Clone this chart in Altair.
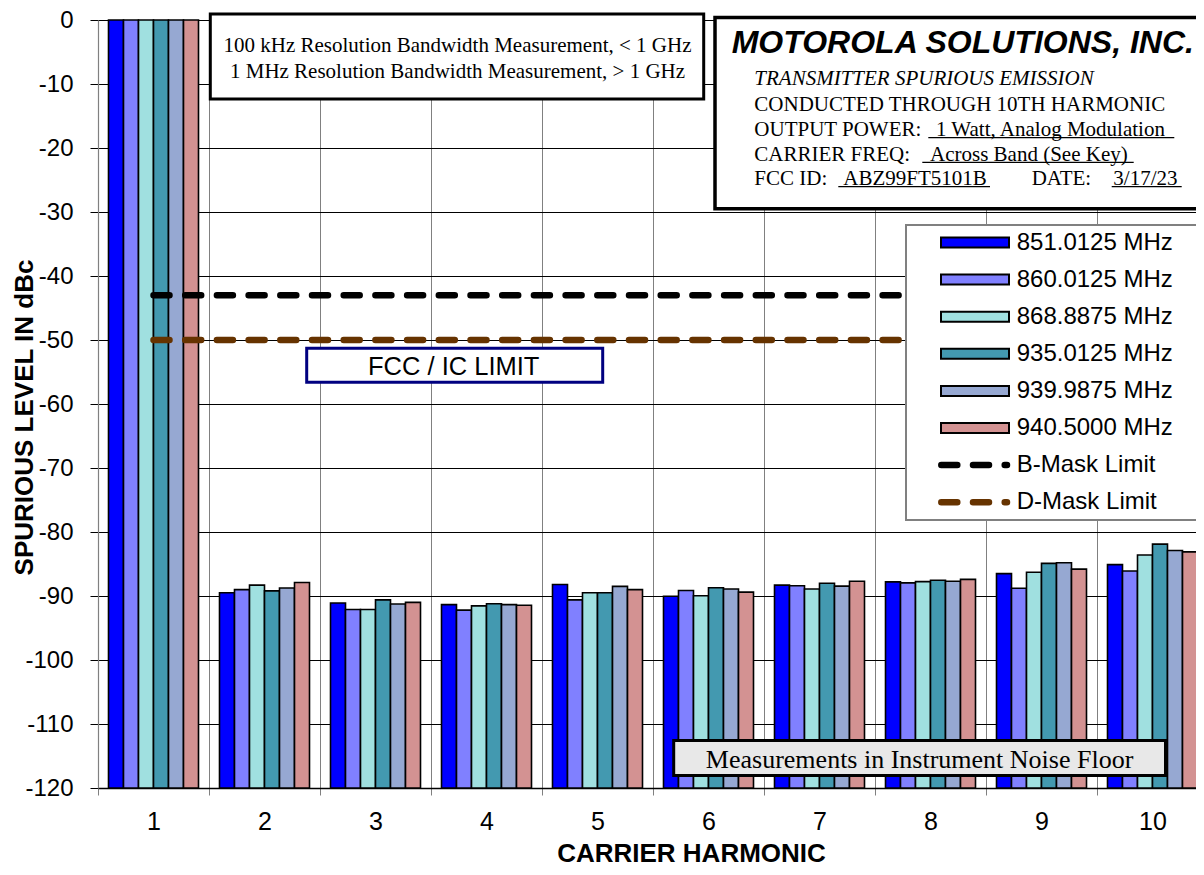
import altair as alt
import pandas as pd

# ---------------- data ----------------
harmonics = [1, 2, 3, 4, 5, 6, 7, 8, 9, 10]
series = ["851.0125 MHz", "860.0125 MHz", "868.8875 MHz",
          "935.0125 MHz", "939.9875 MHz", "940.5000 MHz"]
limit_names = ["B-Mask Limit", "D-Mask Limit"]

s851 = [0, -89.5, -91.1, -91.35, -88.2, -90.05, -88.3, -87.8, -86.5, -85.1]
s860 = [0, -89.0, -92.1, -92.2, -90.6, -89.15, -88.4, -87.95, -88.8, -86.1]
s868 = [0, -88.3, -92.1, -91.55, -89.5, -89.95, -88.9, -87.75, -86.3, -83.6]
s935 = [0, -89.2, -90.6, -91.2, -89.5, -88.7, -88.0, -87.55, -84.9, -81.9]
s939 = [0, -88.75, -91.25, -91.35, -88.5, -88.9, -88.45, -87.7, -84.8, -82.9]
s940 = [0, -87.9, -91.0, -91.45, -89.0, -89.4, -87.7, -87.4, -85.8, -83.1]
b_mask = [-43, -43, -43, -43, -43, -43, -43, -43, -43, -43]
d_mask = [-50, -50, -50, -50, -50, -50, -50, -50, -50, -50]

y_ticks = [-120, -110, -100, -90, -80, -70, -60, -50, -40, -30, -20, -10, 0]

bar_colors = ["#0000FF", "#8080FF", "#A0E0E0", "#4399B0", "#96A8D2", "#D39292"]
limit_colors = ["#000000", "#663300"]

# ---------------- tables ----------------
rows = []
for name, vals in zip(series, [s851, s860, s868, s935, s939, s940]):
    for h, v in zip(harmonics, vals):
        rows.append({"harmonic": h, "series": name, "value": v})
bar_df = pd.DataFrame(rows)

lrows = []
for name, vals in zip(limit_names, [b_mask, d_mask]):
    for h, v in zip(harmonics, vals):
        lrows.append({"harmonic": h, "series": name, "value": v})
limit_df = pd.DataFrame(lrows)

legend_df = pd.DataFrame({"series": series + limit_names,
                          "idx": list(range(len(series) + len(limit_names)))})

SANS = "Liberation Sans"
SERIF = "Liberation Serif"

# layout (page pixels): plot area starts at page (98, 20); svg is 1188 x 859
PAD_L, PAD_T, PLOT_W, PLOT_H = 90, 12, 1110, 768
PAD_R = 1188 - PAD_L - PLOT_W   # plot runs past the right edge, as in the original
PAD_B = 859 - PAD_T - PLOT_H
OX, OY = 8 + PAD_L, 8 + PAD_T


def px(v):
    return v - OX


def py(v):
    return v - OY


color_scale = alt.Scale(domain=series + limit_names, range=bar_colors + limit_colors)

x_enc = alt.X(
    "harmonic:O",
    scale=alt.Scale(paddingInner=0, paddingOuter=0),
    title="CARRIER HARMONIC",
    axis=alt.Axis(
        tickBand="extent", grid=True, gridColor="#808080", gridWidth=1,
        domainColor="#000000", domainWidth=1.5, tickColor="#808080", tickSize=7,
        labelAngle=0, labelFont=SANS, labelFontSize=25, labelColor="#000000",
        labelPadding=14, titleFont=SANS, titleFontSize=26, titleFontWeight="bold",
        titleColor="#000000", titleX=px(691), titleY=73, titleAlign="center",
        titleBaseline="alphabetic",
    ),
)
y_enc = alt.Y(
    "value:Q",
    scale=alt.Scale(domain=[-120, 0], nice=False, zero=False),
    title="SPURIOUS LEVEL IN dBc",
    axis=alt.Axis(
        values=y_ticks, grid=True, gridColor="#000000", gridWidth=1,
        domainColor="#808080", domainWidth=1.2, tickColor="#000000", tickSize=8,
        labelExpr="'' + datum.value",
        labelFont=SANS, labelFontSize=24, labelColor="#000000", labelPadding=17,
        titleFont=SANS, titleFontSize=26, titleFontWeight="bold", titleColor="#000000",
        titleAngle=270, titleX=px(32), titleY=py(417), titleAlign="center",
        titleBaseline="alphabetic",
    ),
)

bars = alt.Chart(bar_df).mark_bar(stroke="#000000", strokeWidth=1.6).encode(
    x=x_enc,
    xOffset=alt.XOffset("series:N", sort=series,
                        scale=alt.Scale(paddingOuter=0.7, paddingInner=0)),
    y=y_enc,
    y2=alt.datum(-120),
    color=alt.Color("series:N", scale=color_scale, legend=None),
)

lines = alt.Chart(limit_df).mark_line(
    strokeWidth=6.5, strokeDash=[16, 15.7], strokeCap="round"
).encode(
    x=x_enc, y=y_enc,
    color=alt.Color("series:N", scale=color_scale, legend=None),
    detail="series:N",
)

one = pd.DataFrame({"k": [0]})


def box(x1, x2, y1, y2, fill, stroke, sw):
    return alt.Chart(one).mark_rect(fill=fill, stroke=stroke, strokeWidth=sw).encode(
        x=alt.value(px(x1)), x2=alt.value(px(x2)), y=alt.value(py(y1)), y2=alt.value(py(y2)))


def label(txt, x, y, size, font, align="left", weight="normal", style="normal"):
    return alt.Chart(one).mark_text(
        text=txt, fontSize=size, font=font, align=align, baseline="alphabetic",
        fontWeight=weight, fontStyle=style, color="#000000",
    ).encode(x=alt.value(px(x)), y=alt.value(py(y)))


def uline(x1, x2, y):
    return alt.Chart(one).mark_rule(color="#000000", strokeWidth=1.3).encode(
        x=alt.value(px(x1)), x2=alt.value(px(x2)), y=alt.value(py(y)))


layers = [bars, lines]

# resolution bandwidth box
layers += [
    box(210.3, 703.7, 14, 99, "#FFFFFF", "#000000", 3),
    label("100 kHz Resolution Bandwidth Measurement, < 1 GHz", 457.5, 51.7, 21, SERIF, align="center"),
    label("1 MHz Resolution Bandwidth Measurement, > 1 GHz", 457.5, 77.7, 21, SERIF, align="center"),
]

# Motorola box
MX = 754.3
layers += [
    box(715, 1240, 17.5, 208.7, "#FFFFFF", "#000000", 3.5),
    label("MOTOROLA SOLUTIONS, INC.", 731.7, 53.3, 32, SANS, weight="bold", style="italic"),
    label("TRANSMITTER SPURIOUS EMISSION", MX, 85, 21, SERIF, style="italic"),
    label("CONDUCTED THROUGH 10TH HARMONIC", MX, 110.7, 21, SERIF),
    label("OUTPUT POWER:", MX, 136, 21, SERIF),
    label("1 Watt, Analog Modulation", 936, 136, 21, SERIF),
    uline(928.3, 1174.3, 137.7),
    label("CARRIER FREQ:", MX, 161, 21, SERIF),
    label("Across Band (See Key)", 930, 161, 21, SERIF),
    uline(922.3, 1133.7, 162.3),
    label("FCC ID:", MX, 185.3, 21, SERIF),
    label("ABZ99FT5101B", 843.3, 185.3, 21, SERIF),
    uline(838.3, 990, 186.7),
    label("DATE:", 1031.7, 185.3, 21, SERIF),
    label("3/17/23", 1113.3, 185.3, 21, SERIF),
    uline(1111.7, 1181.7, 186.7),
]

# legend (row centres at page y 242.5 + 37.1 * i)
r0 = py(242.5)
leg = alt.Chart(legend_df).transform_calculate(
    ry=f"{r0} + 37.1 * datum.idx",
    ry0=f"{r0 - 5} + 37.1 * datum.idx",
    ry1=f"{r0 + 5} + 37.1 * datum.idx",
)
layers += [
    box(906, 1240, 225, 520, "#FFFFFF", "#808080", 2),
    leg.transform_filter("datum.idx < 6").mark_rect(stroke="#000000", strokeWidth=2).encode(
        x=alt.value(px(941)), x2=alt.value(px(1009)),
        y=alt.Y("ry0:Q", scale=None, axis=None), y2="ry1:Q",
        color=alt.Color("series:N", scale=color_scale, legend=None),
    ),
    leg.transform_filter("datum.idx >= 6").mark_rule(
        strokeWidth=6.5, strokeDash=[16, 15.7], strokeCap="round").encode(
        x=alt.value(px(941.3)), x2=alt.value(px(1007)),
        y=alt.Y("ry:Q", scale=None, axis=None),
        color=alt.Color("series:N", scale=color_scale, legend=None),
    ),
    leg.mark_text(align="left", baseline="middle", font=SANS, fontSize=24, color="#000000").encode(
        x=alt.value(px(1016.7)), y=alt.Y("ry:Q", scale=None, axis=None), text="series:N"),
]

# FCC / IC limit label
layers += [
    box(306.7, 602.7, 348.3, 382.3, "#FFFFFF", "#000080", 3),
    label("FCC / IC LIMIT", 453.7, 375, 25.5, SANS, align="center"),
]

# noise floor label
layers += [
    box(673.7, 1165.5, 740.5, 775.5, "#E8E8E8", "#000000", 3),
    label("Measurements in Instrument Noise Floor", 919.6, 768.2, 26, SERIF, align="center"),
]

chart = alt.layer(*layers).properties(
    width=PLOT_W, height=PLOT_H,
    autosize=alt.AutoSizeParams(type="none"),
    padding={"left": PAD_L, "top": PAD_T, "right": PAD_R, "bottom": PAD_B},
    background="#FFFFFF",
).configure_view(stroke=None)

chart.save("out.html", embed_options={"renderer": "svg", "actions": False})
